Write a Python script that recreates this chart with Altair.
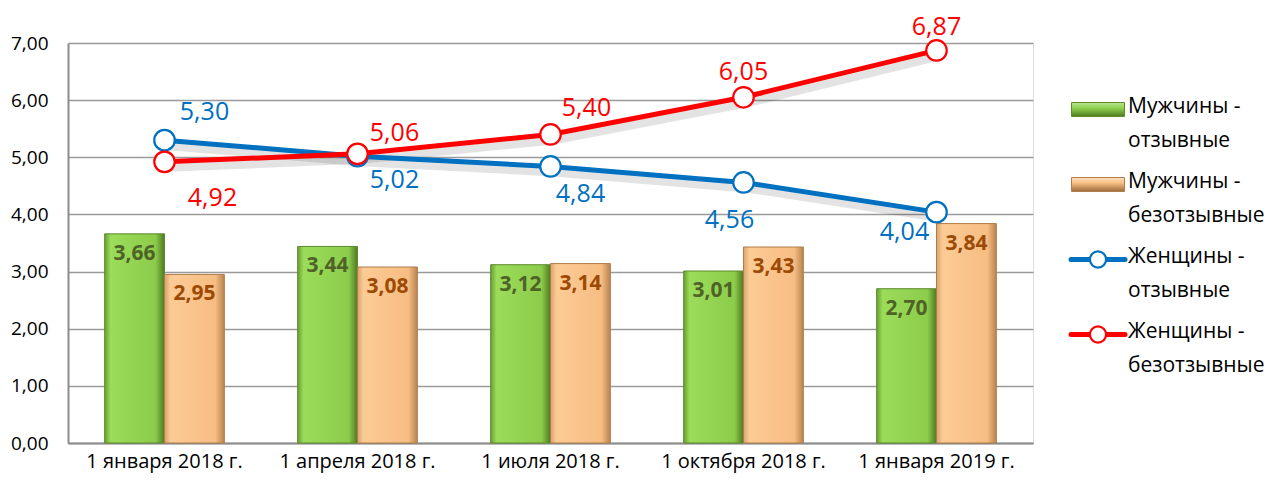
import altair as alt
import pandas as pd

# ---- data ----
categories = ["1 января 2018 г.", "1 апреля 2018 г.", "1 июля 2018 г.",
              "1 октября 2018 г.", "1 января 2019 г."]
men_recall = [3.66, 3.44, 3.12, 3.01, 2.70]
men_nonrecall = [2.95, 3.08, 3.14, 3.43, 3.84]
women_recall = [5.30, 5.02, 4.84, 4.56, 4.04]
women_nonrecall = [4.92, 5.06, 5.40, 6.05, 6.87]

series_names = ["Мужчины - отзывные", "Мужчины - безотзывные",
                "Женщины - отзывные", "Женщины - безотзывные"]
line_colors = ["#0070c0", "#ff0000"]

# style: label offsets (dx, dy) for the line value labels
blue_label_offsets = [(40, -28), (37, 24), (30, 28), (-14, 38), (-32, 20)]
red_label_offsets = [(48, 36), (37, -21), (36, -26), (0, -25), (0, -23)]

FONT = "Open Sans"
FMT = "replace(format(datum.v, '.2f'), '.', ',')"

bars_df = pd.DataFrame(
    [{"cat": c, "series": series_names[0], "v": v} for c, v in zip(categories, men_recall)]
    + [{"cat": c, "series": series_names[1], "v": v} for c, v in zip(categories, men_nonrecall)]
)
lines_df = pd.DataFrame(
    [{"cat": c, "series": series_names[2], "v": v} for c, v in zip(categories, women_recall)]
    + [{"cat": c, "series": series_names[3], "v": v} for c, v in zip(categories, women_nonrecall)]
)
legend_df = pd.DataFrame({"series": series_names})

x_enc = alt.X("cat:N", sort=categories, title=None,
              scale=alt.Scale(paddingInner=0.38, paddingOuter=0.19),
              axis=alt.Axis(labelAngle=0, labelFont=FONT, labelFontSize=20,
                            labelColor="#000000", ticks=False, domainColor="#8c8c8c",
                            domainWidth=2, labelPadding=8))
y_enc = alt.Y("v:Q", title=None,
              scale=alt.Scale(domain=[0, 7], nice=False),
              axis=alt.Axis(values=[0, 1, 2, 3, 4, 5, 6, 7],
                            labelExpr="replace(format(datum.value, '.2f'), '.', ',')",
                            labelFont=FONT, labelFontSize=19, labelColor="#000000",
                            ticks=False, domainColor="#8c8c8c", domainWidth=2,
                            gridColor="#9a9a9a", gridWidth=1.6, labelPadding=20))
line_color = alt.Color("series:N", scale=alt.Scale(domain=series_names[2:], range=line_colors),
                       legend=None)

green_grad = {"gradient": "linear", "x1": 0, "x2": 1, "y1": 0, "y2": 0,
              "stops": [{"offset": 0, "color": "#6a9e32"}, {"offset": 0.1, "color": "#9bdc5a"},
                        {"offset": 0.85, "color": "#8ccc4a"}, {"offset": 1, "color": "#4e7a22"}]}
orange_grad = {"gradient": "linear", "x1": 0, "x2": 1, "y1": 0, "y2": 0,
               "stops": [{"offset": 0, "color": "#d9a26a"}, {"offset": 0.1, "color": "#fccb95"},
                         {"offset": 0.85, "color": "#f7bd83"}, {"offset": 1, "color": "#b88450"}]}
green_grad_v = {"gradient": "linear", "x1": 0, "x2": 0, "y1": 0, "y2": 1,
                "stops": [{"offset": 0, "color": "#b5e48a"}, {"offset": 0.4, "color": "#8fd14f"},
                          {"offset": 1, "color": "#4e7a22"}]}
orange_grad_v = {"gradient": "linear", "x1": 0, "x2": 0, "y1": 0, "y2": 1,
                 "stops": [{"offset": 0, "color": "#fde0bd"}, {"offset": 0.4, "color": "#f7bd83"},
                           {"offset": 1, "color": "#9c6a3a"}]}

xoff = alt.XOffset("series:N", sort=series_names[:2],
                   scale=alt.Scale(paddingInner=0, paddingOuter=0))

base_bars = alt.Chart(bars_df)
bars_g = base_bars.transform_filter(alt.datum.series == series_names[0]).mark_bar(
    fill=green_grad, stroke="#5c8a2c", strokeWidth=1).encode(x=x_enc, y=y_enc, xOffset=xoff)
bars_o = base_bars.transform_filter(alt.datum.series == series_names[1]).mark_bar(
    fill=orange_grad, stroke="#b07c48", strokeWidth=1).encode(x=x_enc, y=y_enc, xOffset=xoff)

bar_label_layers = []
for sname, col in [(series_names[0], "#4f6228"), (series_names[1], "#9c4a06")]:
    bar_label_layers.append(
        base_bars.transform_filter(alt.datum.series == sname).transform_calculate(lbl=FMT)
        .mark_text(baseline="top", dy=9, font=FONT, fontSize=21, fontWeight="bold", color=col)
        .encode(x=x_enc, y=y_enc, xOffset=xoff, text="lbl:N")
    )

base_lines = alt.Chart(lines_df)
shadow = base_lines.mark_line(strokeWidth=8, color="#000000", opacity=0.11,
                              xOffset=3, yOffset=6).encode(x=x_enc, y=y_enc, detail="series:N")
lines = base_lines.mark_line(strokeWidth=5).encode(x=x_enc, y=y_enc, color=line_color)
points = base_lines.mark_point(filled=False, fill="#ffffff", size=420, strokeWidth=2.2,
                               opacity=1).encode(x=x_enc, y=y_enc, color=line_color)

label_layers = []
for sname, offsets, col in [(series_names[2], blue_label_offsets, line_colors[0]),
                            (series_names[3], red_label_offsets, line_colors[1])]:
    for cat, (dx, dy) in zip(categories, offsets):
        label_layers.append(
            base_lines.transform_filter((alt.datum.series == sname) & (alt.datum.cat == cat))
            .transform_calculate(lbl=FMT)
            .mark_text(dx=dx, dy=dy, font=FONT, fontSize=25, color=col, baseline="middle")
            .encode(x=x_enc, y=y_enc, text="lbl:N")
        )

main = alt.layer(bars_g, bars_o, *bar_label_layers, shadow, lines, points, *label_layers)

# ---- manual legend (right side) ----
ly = alt.Y("series:N", sort=series_names, axis=None,
           scale=alt.Scale(domain=series_names, range=[29, 329], padding=0))
base_leg = alt.Chart(legend_df)
bar_path = "M-2.65,-0.7H2.65V0.7H-2.65Z"
leg_bar_g = base_leg.transform_filter(alt.datum.series == series_names[0]).mark_point(
    shape=bar_path, size=400, filled=True, fill=green_grad_v, stroke="#5c8a2c", strokeWidth=1,
    opacity=1).encode(x=alt.value(1030), y=ly)
leg_bar_o = base_leg.transform_filter(alt.datum.series == series_names[1]).mark_point(
    shape=bar_path, size=400, filled=True, fill=orange_grad_v, stroke="#b07c48", strokeWidth=1,
    opacity=1).encode(x=alt.value(1030), y=ly)
leg_lines = base_leg.transform_filter(alt.FieldOneOfPredicate(field="series", oneOf=series_names[2:])
    ).mark_rule(strokeWidth=5, strokeCap="round").encode(
    x=alt.value(1003), x2=alt.value(1057), y=ly, color=line_color)
leg_pts = base_leg.transform_filter(alt.FieldOneOfPredicate(field="series", oneOf=series_names[2:])
    ).mark_point(filled=False, fill="#ffffff", size=260, strokeWidth=2.2, opacity=1).encode(
    x=alt.value(1030), y=ly, color=line_color)
leg_text = base_leg.transform_calculate(
    lbl="replace(datum.series, ' - ', ' -\\n')"
).mark_text(align="left", baseline="top", dy=-14, font=FONT, fontSize=21, color="#000000",
            lineBreak="\n", lineHeight=34).encode(x=alt.value(1060), y=ly, text="lbl:N")

legend = alt.layer(leg_bar_g, leg_bar_o, leg_lines, leg_pts, leg_text)

chart = alt.layer(main, legend).resolve_scale(y="independent", color="shared").properties(
    width=965, height=400,
    autosize=alt.AutoSizeParams(type="none"),
    padding={"left": 60, "top": 35, "right": 240, "bottom": 34},
).configure_view(stroke=None).configure(background="#ffffff")

chart.save("out.html", embed_options={"renderer": "svg", "actions": False})
